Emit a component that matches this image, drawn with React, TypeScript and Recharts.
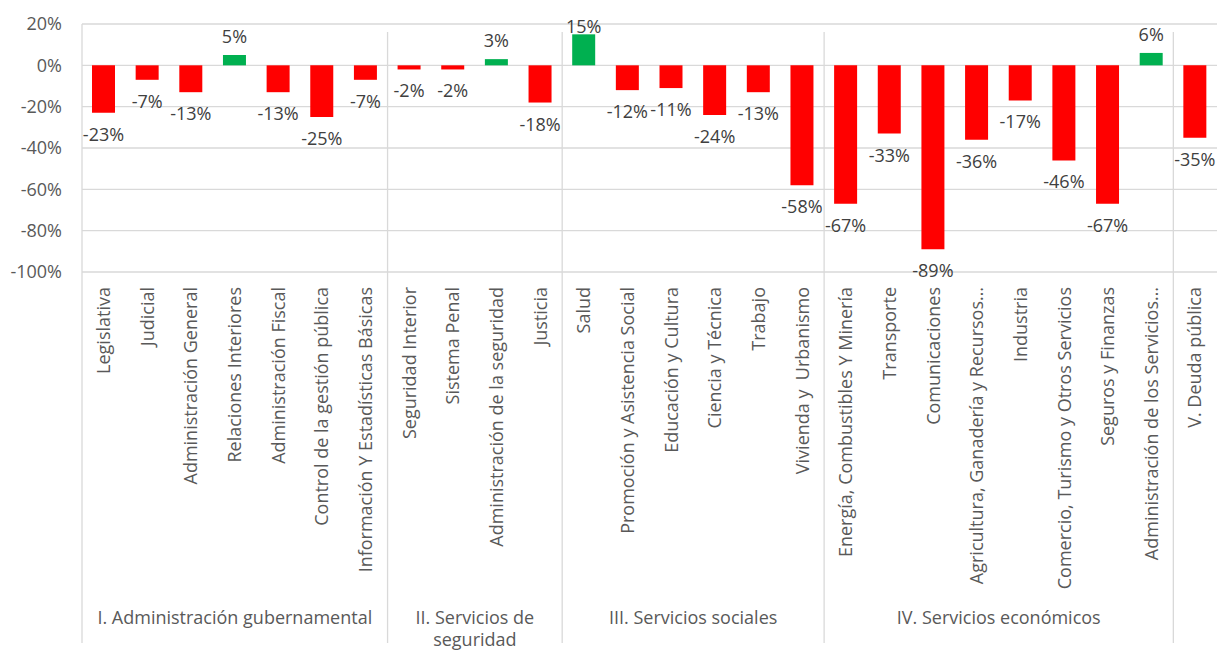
import React from "react"
import { BarChart, Bar, XAxis, YAxis, CartesianGrid, Cell, LabelList } from "recharts"

const categories = [
  "Legislativa",
  "Judicial",
  "Administración General",
  "Relaciones Interiores",
  "Administración Fiscal",
  "Control de la gestión pública",
  "Información Y Estadísticas Básicas",
  "Seguridad Interior",
  "Sistema Penal",
  "Administración de la seguridad",
  "Justicia",
  "Salud",
  "Promoción y Asistencia Social",
  "Educación y Cultura",
  "Ciencia y Técnica",
  "Trabajo",
  "Vivienda y  Urbanismo",
  "Energía, Combustibles Y Minería",
  "Transporte",
  "Comunicaciones",
  "Agricultura, Ganadería y Recursos…",
  "Industria",
  "Comercio, Turismo y Otros Servicios",
  "Seguros y Finanzas",
  "Administración de los Servicios…",
  "V. Deuda pública",
]

const values = [
  -23, -7, -13, 5, -13, -25, -7,
  -2, -2, 3, -18,
  15, -12, -11, -24, -13, -58,
  -67, -33, -89, -36, -17, -46, -67, 6,
  -35,
]

const groupNames = [
  "I. Administración gubernamental",
  "II. Servicios de seguridad",
  "III. Servicios sociales",
  "IV. Servicios económicos",
  "",
]
const groupSizes = [7, 4, 6, 8, 1]

const yTicks = [20, 0, -20, -40, -60, -80, -100]

const W = 1217
const H = 653
const TOP = 24
const Y_AXIS_W = 82
const X_AXIS_H = 381
const PLOT_BOTTOM = H - X_AXIS_H
const PLOT_W = W - Y_AXIS_W
const FONT = '"Open Sans", sans-serif'
const POS = "#00B050"
const NEG = "#FF0000"
const GRID = "#D9D9D9"

// which group each category belongs to, and where each group starts
const groupStarts: number[] = []
const groupOf: number[] = []
groupSizes.forEach((n, g) => {
  groupStarts.push(groupOf.length)
  for (let k = 0; k < n; k++) groupOf.push(g)
})

const data = categories.map((name, i) => ({ name, value: values[i] }))

const ctx = typeof document !== "undefined" ? document.createElement("canvas").getContext("2d") : null
function wrap(text: string, maxW: number) {
  if (!ctx) return [text]
  ctx.font = `18px ${FONT}`
  const words = text.split(" ")
  const lines: string[] = []
  let cur = ""
  for (const w of words) {
    const t = cur ? cur + " " + w : w
    if (ctx.measureText(t).width > maxW && cur) {
      lines.push(cur)
      cur = w
    } else cur = t
  }
  if (cur) lines.push(cur)
  return lines
}

function CategoryTick(props: any) {
  const { x, payload } = props
  const i = payload.index
  const band = PLOT_W / categories.length
  const g = groupOf[i]
  const first = groupStarts[g] === i
  const left = x - band / 2
  const gw = groupSizes[g] * band
  const lines = first && groupNames[g] ? wrap(groupNames[g], gw - 8) : []
  return (
    <g>
      <text
        transform={`translate(${x},${PLOT_BOTTOM + 15}) rotate(-90)`}
        textAnchor="end"
        dy="0.35em"
        fill="#595959"
        fontSize={18}
        fontFamily={FONT}
        style={{ whiteSpace: "pre" }}
      >
        {payload.value}
      </text>
      {first && (
        <line x1={left} x2={left} y1={g === 0 ? TOP : TOP + 8} y2={643} stroke={GRID} strokeWidth={1.3} />
      )}
      {lines.map((l, k) => (
        <text
          key={k}
          x={left + gw / 2}
          y={624 + k * 22}
          textAnchor="middle"
          fill="#595959"
          fontSize={18}
          fontFamily={FONT}
        >
          {l}
        </text>
      ))}
    </g>
  )
}

function ValueLabel(props: any) {
  const { x, y, width, height, value } = props
  const top = Math.min(y, y + height)
  const bottom = Math.max(y, y + height)
  const ty = value < 0 ? bottom + 28 : Math.max(top - 12, 33)
  return (
    <text x={x + width / 2} y={ty} textAnchor="middle" fill="#404040" fontSize={18} fontFamily={FONT}>
      {value}%
    </text>
  )
}

export default function App() {
  return (
    <div style={{ position: "absolute", left: 0, top: 0, background: "#fff", fontFamily: FONT }}>
      <BarChart width={W} height={H} data={data} margin={{ top: TOP, right: 0, bottom: 0, left: 0 }}>
        <CartesianGrid vertical={false} stroke={GRID} strokeWidth={1.3} />
        <YAxis
          width={Y_AXIS_W}
          domain={[-100, 20]}
          ticks={yTicks}
          interval={0}
          tickFormatter={(v) => `${v}%`}
          axisLine={false}
          tickLine={false}
          tickSize={6}
          tickMargin={14}
          tick={{ fill: "#595959", fontSize: 18, fontFamily: FONT }}
        />
        <XAxis
          dataKey="name"
          height={X_AXIS_H}
          interval={0}
          axisLine={false}
          tickLine={false}
          tick={<CategoryTick />}
        />
        <Bar dataKey="value" barSize={23} isAnimationActive={false}>
          {data.map((d, i) => (
            <Cell key={i} fill={d.value >= 0 ? POS : NEG} />
          ))}
          <LabelList dataKey="value" content={<ValueLabel />} />
        </Bar>
      </BarChart>
    </div>
  )
}
